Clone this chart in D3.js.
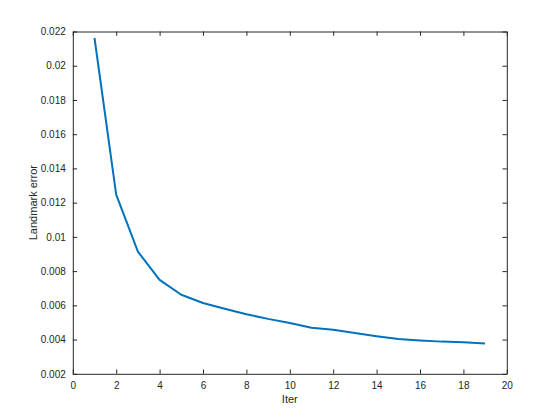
<!DOCTYPE html>
<html><head><meta charset="utf-8">
<script src="https://cdn.jsdelivr.net/npm/d3@7"></script>
<style>body{margin:0;background:#fff}svg{display:block}text{font-family:"Liberation Sans",Arial,Helvetica,sans-serif;}</style>
</head><body>
<svg id="c" width="560" height="420"></svg>
<script>
const iters = [1,2,3,4,5,6,7,8,9,10,11,12,13,14,15,16,17,18,19];
const errors = [0.02162,0.01247,0.00914,0.00749,0.00662,0.00614,0.00580,0.00548,0.00521,0.00497,0.00469,0.00457,0.00438,0.00420,0.00403,0.00395,0.00388,0.00385,0.00377];
const xTicks = [0,2,4,6,8,10,12,14,16,18,20];
const yTicks = [0.002,0.004,0.006,0.008,0.01,0.012,0.014,0.016,0.018,0.02,0.022];
const xLabel = "Iter", yLabel = "Landmark error";

const L=72.8, T=31.5, R=506.8, B=373.8;
const svg=d3.select("#c");
const x=d3.scaleLinear().domain([0,20]).range([L,R]);
const y=d3.scaleLinear().domain([0.002,0.022]).range([B,T]);
const col="#262626", tl=4.3;
const fmt=d=>String(+d.toPrecision(3));

const gx=svg.append("g").attr("transform",`translate(0,${B})`).call(d3.axisBottom(x).tickValues(xTicks).tickSizeInner(-tl).tickSizeOuter(0).tickPadding(8).tickFormat(fmt));
const gxt=svg.append("g").attr("transform",`translate(0,${T})`).call(d3.axisTop(x).tickValues(xTicks).tickSizeInner(-tl).tickSizeOuter(0).tickFormat(""));
const gy=svg.append("g").attr("transform",`translate(${L},0)`).call(d3.axisLeft(y).tickValues(yTicks).tickSizeInner(-tl).tickSizeOuter(0).tickPadding(7).tickFormat(fmt));
const gyr=svg.append("g").attr("transform",`translate(${R},0)`).call(d3.axisRight(y).tickValues(yTicks).tickSizeInner(-tl).tickSizeOuter(0).tickFormat(""));
[gx,gxt,gy,gyr].forEach(g=>{
  g.selectAll("path").attr("stroke",col).attr("stroke-width",1);
  g.selectAll("line").attr("stroke",col).attr("stroke-width",1);
  g.selectAll("text").attr("fill",col).attr("font-size",10).attr("font-family",'"Liberation Sans",Arial,sans-serif');
});

const line=d3.line().x((d,i)=>x(iters[i])).y(d=>y(d));
svg.append("path").datum(errors).attr("d",line).attr("fill","none").attr("stroke","#0072BD").attr("stroke-width",2).attr("stroke-linejoin","round");

svg.append("text").attr("x",(L+R)/2).attr("y",403).attr("text-anchor","middle").attr("font-size",11).attr("fill",col).text(xLabel);
svg.append("text").attr("transform",`translate(37,${(T+B)/2}) rotate(-90)`).attr("text-anchor","middle").attr("font-size",11).attr("fill",col).text(yLabel);
</script>
</body></html>
